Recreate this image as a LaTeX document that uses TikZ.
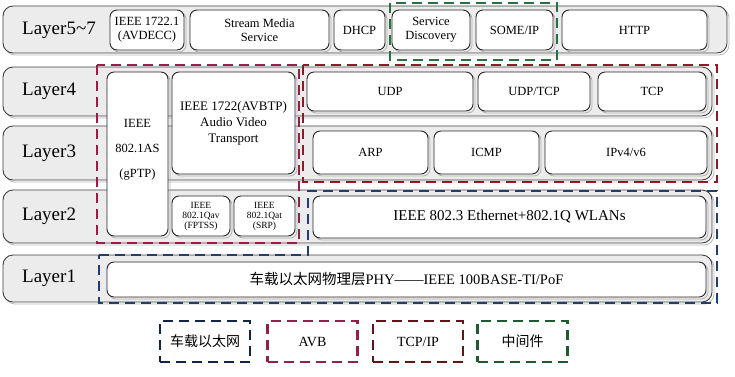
\documentclass[tikz,border=0pt]{standalone}
\usepackage{fontspec}
\setmainfont{Liberation Serif}
\newfontfamily\cjk{Noto Sans CJK SC}
\usetikzlibrary{positioning}

\definecolor{avbred}{RGB}{150,30,72}
\definecolor{tcpred}{RGB}{140,28,36}
\definecolor{carblue}{RGB}{32,62,112}
\definecolor{midgreen}{RGB}{40,112,62}

\newcommand{\labelfont}{\fontsize{19}{21}\selectfont}
\newcommand{\boxfont}{\fontsize{12.5}{14}\selectfont}
\newcommand{\smallfont}{\fontsize{9.5}{10}\selectfont}
\newcommand{\widefont}{\fontsize{15}{17}\selectfont}

% name, x1, y1, x2, y2, font, text
\newcommand{\protobox}[7]{%
  \draw[boxshadow] (#2+2,#3+2) rectangle (#4+2,#5+2);
  \node[protonode, font=#6, minimum width={#4-#2}, minimum height={#5-#3}]
    (#1) at ({(#2+#4)/2},{(#3+#5)/2}) {#7};}

\begin{document}
\begin{tikzpicture}[x=1pt, y=-1pt,
    rowshape/.style={draw=black!75, fill=gray!15, rounded corners=10pt, line width=0.9pt},
    rowshadow/.style={draw=gray!55, rounded corners=10pt, line width=0.8pt},
    boxshadow/.style={draw=gray!60, rounded corners=7pt, line width=0.8pt},
    protonode/.style={draw=black!85, fill=white, rounded corners=7pt, line width=0.9pt,
      align=center, inner sep=1pt},
    layerlabel/.style={anchor=west, font=\labelfont, inner sep=0pt},
    groupline/.style={line width=2.2pt, dash pattern=on 10pt off 6pt},
    legendbox/.style={groupline, minimum width=90pt, minimum height=41pt,
      font=\fontsize{14}{16}\selectfont}]
  \useasboundingbox (0,0) rectangle (735,376);

  % Layer rows
  \draw[rowshadow] (5,8) rectangle (729,55);
  \draw[rowshape] (3,6) rectangle (727,53);
  \draw[rowshadow] (5,69) rectangle (714,118);
  \draw[rowshape] (3,67) rectangle (712,116);
  \draw[rowshadow] (5,128) rectangle (714,182);
  \draw[rowshape] (3,126) rectangle (712,180);
  \draw[rowshadow] (5,192) rectangle (714,245);
  \draw[rowshape] (3,190) rectangle (712,243);
  \draw[rowshadow] (5,257) rectangle (714,304);
  \draw[rowshape] (3,255) rectangle (712,302);
  \node[layerlabel] (lab57) at (22,30) {Layer5\textasciitilde7};
  \node[layerlabel] (lab4) at (22,91) {Layer4};
  \node[layerlabel] (lab3) at (22,153) {Layer3};
  \node[layerlabel] (lab2) at (22,216) {Layer2};
  \node[layerlabel] (lab1) at (22,278) {Layer1};

  % Layer5~7
  \protobox{avdecc}{110}{10}{184}{50}{\boxfont}{IEEE 1722.1\\(AVDECC)}
  \protobox{stream}{190}{10}{329}{50}{\boxfont}{Stream Media\\Service}
  \protobox{dhcp}{334}{10}{385}{50}{\boxfont}{DHCP}
  \protobox{sd}{392}{10}{470}{50}{\boxfont}{Service\\Discovery}
  \protobox{someip}{476}{10}{553}{50}{\boxfont}{SOME/IP}
  \protobox{http}{562}{10}{707}{50}{\boxfont}{HTTP}

  % AVB stack
  \protobox{gptp}{107}{72}{168}{236}{\boxfont}{IEEE\\[11pt]802.1AS\\[11pt](gPTP)\\[-2pt]}
  \protobox{avbtp}{172}{72}{295}{174}{\fontsize{13}{16}\selectfont}{IEEE 1722(AVBTP)\\Audio Video\\Transport}
  \protobox{qav}{172}{196}{230}{236}{\smallfont}{IEEE\\802.1Qav\\(FPTSS)}
  \protobox{qat}{234}{196}{295}{236}{\smallfont}{IEEE\\802.1Qat\\(SRP)}

  % Layer4
  \protobox{udp}{307}{72}{473}{111}{\boxfont}{UDP}
  \protobox{udptcp}{478}{72}{590}{111}{\boxfont}{UDP/TCP}
  \protobox{tcp}{598}{72}{706}{111}{\boxfont}{TCP}

  % Layer3
  \protobox{arp}{313}{131}{428}{174}{\boxfont}{ARP}
  \protobox{icmp}{434}{131}{539}{174}{\boxfont}{ICMP}
  \protobox{ip}{545}{131}{707}{174}{\boxfont}{IPv4/v6}

  % Layer2 and Layer1
  \protobox{eth}{313}{196}{706}{238}{\widefont}{IEEE 802.3 Ethernet+802.1Q WLANs}
  \protobox{phy}{107}{262}{706}{297}{\fontsize{14.5}{16}\selectfont}{{\cjk 车载以太网物理层}PHY——IEEE 100BASE-TI/PoF}

  % Groups
  \draw[groupline, midgreen] (390,3) rectangle (557,60);
  \draw[groupline, avbred] (97,65) rectangle (299,243);
  \draw[groupline, tcpred] (303,65) rectangle (717,182);
  \draw[groupline, carblue] (99,255) -- (308,255) -- (308,191) -- (717,191)
    -- (717,303) -- (99,303) -- cycle;

  % Legend
  \node[legendbox, draw=carblue!60!black] (legcar) at (205,341.5) {\cjk 车载以太网};
  \node[legendbox, draw=avbred] (legavb) at (312.5,341.5) {AVB};
  \node[legendbox, draw=tcpred!70!black] (legtcp) at (418,341.5) {TCP/IP};
  \node[legendbox, draw=midgreen!80!black] (legmid) at (522.5,341.5) {\cjk 中间件};
\end{tikzpicture}
\end{document}
